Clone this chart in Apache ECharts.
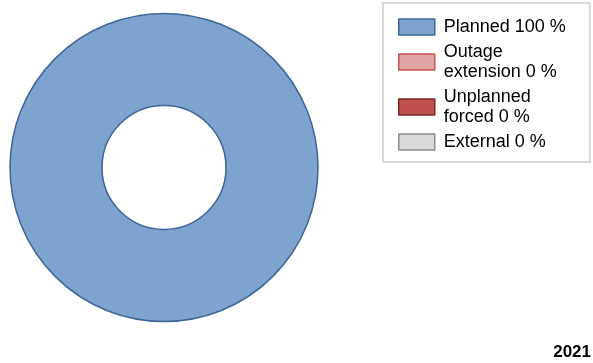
<!DOCTYPE html>
<html>
<head>
<meta charset="utf-8">
<script src="https://cdn.jsdelivr.net/npm/echarts@6/dist/echarts.min.js"></script>
<style>html,body{margin:0;padding:0;background:#fff}#c{width:593px;height:363px}</style>
</head>
<body>
<div id="c"></div>
<script>
const categories = ["Planned", "Outage extension", "Unplanned forced", "External"];
const legendLabels = ["Planned 100 %", "Outage\nextension 0 %", "Unplanned\nforced 0 %", "External 0 %"];
const values = [100, 0, 0, 0];
const yearLabel = "2021";
const fills = ["#7EA3CE", "#E0A4A4", "#C0504D", "#D9D9D9"];
const borders = ["#3D6596", "#C9544F", "#7A2624", "#8C8C8C"];

const chart = echarts.init(document.getElementById('c'), null, {renderer: 'canvas'});
const labelMap = {};
categories.forEach((c, i) => labelMap[c] = legendLabels[i]);

chart.setOption({
  animation: false,
  title: {
    text: yearLabel, right: 2, bottom: 2, padding: 0,
    textStyle: {fontFamily: 'Liberation Sans, Arial', fontSize: 17, fontWeight: 'bold', color: '#000'}
  },
  legend: {
    orient: 'vertical', left: 383, top: 3,
    padding: [14, 24, 10, 15],
    borderColor: '#D9D9D9', borderWidth: 2,
    itemWidth: 36, itemHeight: 16, itemGap: 5,
    icon: 'rect',
    selectedMode: false,
    formatter: n => labelMap[n],
    textStyle: {fontFamily: 'Liberation Sans, Arial', fontSize: 18, lineHeight: 20, color: '#000', padding: [0, 0, 0, 4]},
    data: categories.map((c, i) => ({name: c, itemStyle: {color: fills[i], borderColor: borders[i], borderWidth: 1.5}}))
  },
  series: [{
    type: 'pie',
    center: [164, 167.5],
    radius: [62, 154],
    startAngle: 90,
    label: {show: false},
    labelLine: {show: false},
    emphasis: {disabled: true},
    silent: true,
    data: categories.map((c, i) => ({
      name: c, value: values[i],
      itemStyle: {color: fills[i], borderColor: borders[i], borderWidth: values[i] > 0 ? 1.5 : 0}
    }))
  }]
});
</script>
</body>
</html>
